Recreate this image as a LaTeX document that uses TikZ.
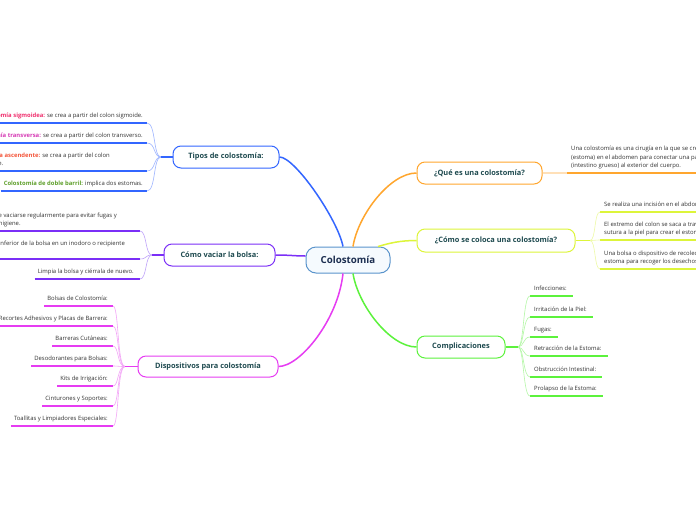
\documentclass[tikz,border=0pt]{standalone}
\usepackage{fontspec}
\setmainfont{Open Sans}
\definecolor{cblue}{HTML}{3366FF}
\definecolor{cbluel}{HTML}{9DB4FF}
\definecolor{cpur}{HTML}{7B2FF7}
\definecolor{cpurl}{HTML}{BFA3FA}
\definecolor{cmag}{HTML}{E63CF2}
\definecolor{cmagl}{HTML}{F3A6F7}
\definecolor{corg}{HTML}{FFA62E}
\definecolor{corgl}{HTML}{FFE0B8}
\definecolor{cyel}{HTML}{DDF53A}
\definecolor{cyell}{HTML}{EEFAA6}
\definecolor{cgrn}{HTML}{5CF23C}
\definecolor{cgrnl}{HTML}{B4F7A6}
\definecolor{ccen}{HTML}{5A94CC}
\definecolor{ccenf}{HTML}{F5FAFE}
\definecolor{ctxt}{HTML}{1E4A4F}
\definecolor{cctr}{HTML}{1B2D4F}
\definecolor{csm}{HTML}{333333}
\definecolor{kpink}{HTML}{F0306E}
\definecolor{kmag}{HTML}{D63AB5}
\definecolor{kred}{HTML}{F4553A}
\definecolor{kgrn}{HTML}{5E9F2A}
\tikzset{
  mainbox/.style={draw, line width=1pt, rounded corners=8pt, fill=white, inner sep=0pt,
    minimum height=22pt, font=\fontsize{7.4}{9}\selectfont\bfseries, text=ctxt},
  leaf/.style={inner xsep=3pt, inner ysep=3.4pt, font=\fontsize{5.9}{8.5}\selectfont,
    text=csm, align=left, execute at end node={\rule[-1.6pt]{0pt}{1pt}}},
  uline/.style={line width=1.3pt},
  twig/.style={line width=0.6pt},
  stub/.style={line width=1.3pt},
  trunk/.style={line width=1.5pt}
}
\begin{document}
\begin{tikzpicture}[x=1pt,y=-1pt]
\useasboundingbox (0,0) rectangle (696,520);
\fill[white] (0,0) rectangle (696,520);
\clip (0,0) rectangle (696,520);

% main nodes
\node[mainbox, draw=ccen, fill=ccenf, minimum width=84pt, minimum height=26pt,
  font=\fontsize{9.7}{11}\selectfont\bfseries, text=cctr, rounded corners=10pt] (C) at (348,260) {Colostomía};
\node[mainbox, draw=cblue, minimum width=106pt] (T) at (226,157) {Tipos de colostomía:};
\node[mainbox, draw=cpur, minimum width=111pt] (V) at (219.5,255) {Cómo vaciar la bolsa:};
\node[mainbox, draw=cmag, minimum width=140pt, minimum height=21pt] (D) at (208,366.5) {Dispositivos para colostomía};
\node[mainbox, draw=corg, minimum width=125pt] (Q) at (479.5,173) {¿Qué es una colostomía?};
\node[mainbox, draw=cyel, minimum width=158pt, minimum height=23pt] (S) at (496,240.5) {¿Cómo se coloca una colostomía?};
\node[mainbox, draw=cgrn, minimum width=88pt] (K) at (461,347) {Complicaciones};

% trunks
\draw[trunk, cblue] (T.east) .. controls (295,157) and (338,220) .. ([xshift=-5pt]C.north);
\draw[trunk, corg] ([xshift=5pt]C.north) .. controls (358,215) and (390,173) .. (Q.west);
\draw[trunk, cyel] ([xshift=30pt]C.north) .. controls (390,243) and (400,240.5) .. (S.west);
\draw[trunk, cgrn] ([xshift=5pt]C.south) .. controls (358,305) and (390,347) .. (K.west);
\draw[trunk, cmag] ([xshift=-5pt]C.south) .. controls (338,320) and (300,366.5) .. (D.east);
\draw[trunk, cpur] (V.east) .. controls (290,255) and (295,256) .. ([yshift=4pt]C.west);

% ---------- Tipos de colostomía
\node[leaf, anchor=south east] (t1) at (146,123) {\textcolor{kpink}{\bfseries Colostomía sigmoidea:} se crea a partir del colon sigmoide.};
\node[leaf, anchor=south east] (t2) at (146,143) {\textcolor{kmag}{\bfseries Colostomía transversa:} se crea a partir del colon transverso.};
\node[leaf, anchor=south east] (t3) at (113,171) {\textcolor{kred}{\bfseries Colostomía ascendente:} se crea a partir del colon\\ascendente.};
\node[leaf, anchor=south east] (t4) at (146,191) {\textcolor{kgrn}{\bfseries Colostomía de doble barril:} implica dos estomas.};
\coordinate (tb) at (161,157);
\coordinate (t1e) at (147,123);
\coordinate (t2e) at (147,143);
\coordinate (t3e) at (147,171);
\coordinate (t4e) at (147,191);
\foreach \i in {1,2,3,4}{
  \draw[uline, cblue] (t\i.south west) -- (t\i e);
  \draw[twig, cbluel] (t\i e) .. controls (156,0|-t\i e) and (153,157) .. (tb);
}
\draw[stub, cblue] (T.west) -- (tb);

% ---------- Cómo vaciar la bolsa
\node[leaf, anchor=south east] (v1) at (120,231) {La bolsa debe vaciarse regularmente para evitar fugas y\\mantener la higiene.};
\node[leaf, anchor=south east] (v2) at (128,259) {Abre el extremo inferior de la bolsa en un inodoro o recipiente\\adecuado.};
\node[leaf, anchor=south east] (v3) at (137,279) {Limpia la bolsa y ciérrala de nuevo.};
\coordinate (vb) at (152,255);
\coordinate (v1e) at (140,231);
\coordinate (v2e) at (140,259);
\coordinate (v3e) at (140,279);
\foreach \i in {1,2,3}{
  \draw[uline, cpur] (v\i.south west) -- (v\i e);
  \draw[twig, cpurl] (v\i e) .. controls (147,0|-v\i e) and (145,255) .. (vb);
}
\draw[stub, cpur] (V.west) -- (vb);

% ---------- Dispositivos
\node[leaf, anchor=south east] (d1) at (111,306) {Bolsas de Colostomía:};
\node[leaf, anchor=south east] (d2) at (111,326) {Recortes Adhesivos y Placas de Barrera:};
\node[leaf, anchor=south east] (d3) at (111,346) {Barreras Cutáneas:};
\node[leaf, anchor=south east] (d4) at (111,366) {Desodorantes para Bolsas:};
\node[leaf, anchor=south east] (d5) at (111,386) {Kits de Irrigación:};
\node[leaf, anchor=south east] (d6) at (111,406) {Cinturones y Soportes:};
\node[leaf, anchor=south east] (d7) at (111,426) {Toallitas y Limpiadores Especiales:};
\coordinate (db) at (125,366.5);
\foreach \i/\y in {1/306,2/326,3/346,4/366,5/386,6/406,7/426}{
  \coordinate (d\i e) at (113,\y);
  \draw[uline, cmag] (d\i.south west) -- (d\i e);
  \draw[twig, cmagl] (d\i e) .. controls (119,\y) and (117,366.5) .. (db);
}
\draw[stub, cmag] (D.west) -- (db);

% ---------- Qué es
\coordinate (q1s) at (567,173);
\node[leaf, anchor=south west] (q1) at (568,173) {Una colostomía es una cirugía en la que se crea una abertura\\(estoma) en el abdomen para conectar una parte del colon\\(intestino grueso) al exterior del cuerpo.};
\draw[stub, corgl] (Q.east) -- (q1s);
\draw[uline, corg] (q1s) -- (q1.south east);

% ---------- Cómo se coloca
\node[leaf, anchor=south west] (s1) at (601,212) {Se realiza una incisión en el abdomen.};
\node[leaf, anchor=south west] (s2) at (601,240) {El extremo del colon se saca a través de la incisión y se\\sutura a la piel para crear el estoma.};
\node[leaf, anchor=south west] (s3) at (601,269) {Una bolsa o dispositivo de recolección se coloca sobre el\\estoma para recoger los desechos.};
\coordinate (sb) at (590,240.5);
\foreach \i/\y in {1/212,2/240,3/269}{
  \coordinate (s\i s) at (600,\y);
  \draw[uline, cyel] (s\i s) -- (s\i.south east);
  \draw[twig, cyell] (sb) .. controls (596,240.5) and (594,\y) .. (s\i s);
}
\draw[stub, cyel] (S.east) -- (sb);

% ---------- Complicaciones
\node[leaf, anchor=south west] (k1) at (531,296) {Infecciones:};
\node[leaf, anchor=south west] (k2) at (531,317) {Irritación de la Piel:};
\node[leaf, anchor=south west] (k3) at (531,337) {Fugas:};
\node[leaf, anchor=south west] (k4) at (531,356) {Retracción de la Estoma:};
\node[leaf, anchor=south west] (k5) at (531,377) {Obstrucción Intestinal:};
\node[leaf, anchor=south west] (k6) at (531,396) {Prolapso de la Estoma:};
\coordinate (kb) at (518,347);
\foreach \i/\y in {1/296,2/317,3/337,4/356,5/377,6/396}{
  \coordinate (k\i s) at (530,\y);
  \draw[uline, cgrn] (k\i s) -- ([xshift=3pt]k\i.south east);
  \draw[twig, cgrnl] (kb) .. controls (524,347) and (523,\y) .. (k\i s);
}
\draw[stub, cgrn] (K.east) -- (kb);
\end{tikzpicture}
\end{document}
